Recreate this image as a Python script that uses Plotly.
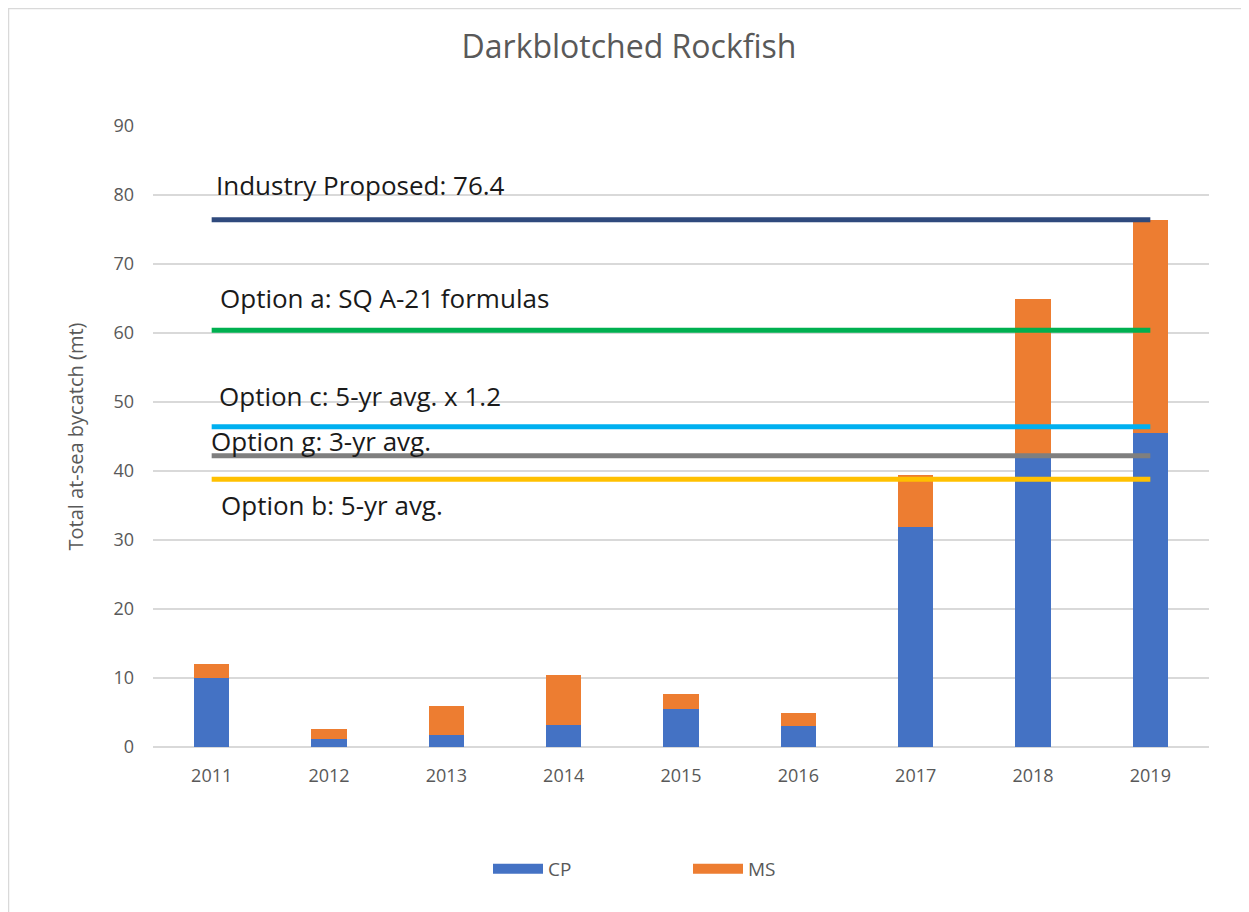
import plotly.graph_objects as go

years = ["2011", "2012", "2013", "2014", "2015", "2016", "2017", "2018", "2019"]
cp = [10.0, 1.2, 1.7, 3.2, 5.5, 3.1, 31.9, 42.0, 45.5]
ms_total = [12.0, 2.6, 6.0, 10.5, 7.7, 4.9, 39.4, 65.0, 76.4]
ms = [round(t - c, 2) for t, c in zip(ms_total, cp)]

ref_labels = ["Industry Proposed: 76.4", "Option a: SQ A-21 formulas",
              "Option c: 5-yr avg. x 1.2", "Option g: 3-yr avg.", "Option b: 5-yr avg."]
ref_values = [76.4, 60.4, 46.4, 42.2, 38.8]
ref_colors = ["#2F4A7D", "#00B050", "#00B0F0", "#7F7F7F", "#FFC000"]
label_y = [81.4, 65.1, 50.9, 44.3, 35.1]
label_px = [214, 218, 217, 209, 219]

CP_COLOR = "#4472C4"
MS_COLOR = "#ED7D31"
FONT = "Open Sans, Liberation Sans, sans-serif"

OFF = 8  # page body offset
W, H = 1249, 912
L = 153 - OFF
T = 126 - OFF
R = W - (1209 - OFF)
B = H - (747 - OFF)
pw = W - L - R
ph = H - T - B

fig = go.Figure()
fig.add_trace(go.Bar(x=years, y=cp, name="CP", marker=dict(color=CP_COLOR, line=dict(width=0)),
                     showlegend=False))
fig.add_trace(go.Bar(x=years, y=ms, name="MS", marker=dict(color=MS_COLOR, line=dict(width=0)),
                     showlegend=False))

for lab, v, c in zip(ref_labels, ref_values, ref_colors):
    fig.add_trace(go.Scatter(x=[years[0], years[-1]], y=[v, v], mode="lines",
                             line=dict(color=c, width=5), showlegend=False,
                             hoverinfo="skip", name=lab))

# legend entries (wide swatches like the reference)
for nm, col in [("CP", CP_COLOR), ("MS", MS_COLOR)]:
    fig.add_trace(go.Scatter(x=[None], y=[None], mode="lines", name=nm,
                             line=dict(color=col, width=12), showlegend=True))

annots = []
for lab, ly, px in zip(ref_labels, label_y, label_px):
    annots.append(dict(text=lab, x=(px - OFF - L) / pw, xref="paper", y=ly, yref="y",
                       xanchor="left", yanchor="middle", showarrow=False,
                       font=dict(family=FONT, size=26, color="#1a1a1a")))

fig.update_layout(
    width=W, height=H,
    barmode="stack",
    bargap=0.7,
    margin=dict(l=L, r=R, t=T, b=B),
    paper_bgcolor="white", plot_bgcolor="white",
    title=dict(text="Darkblotched Rockfish", x=(629 - OFF) / W, xanchor="center",
               y=1 - (47 - OFF) / H, yanchor="middle",
               font=dict(family=FONT, size=32, color="#595959")),
    xaxis=dict(type="category", showgrid=False, showline=False, zeroline=False, ticks="",
               ticklabelstandoff=16,
               tickfont=dict(family=FONT, size=18, color="#595959")),
    yaxis=dict(range=[0, 90], dtick=10, showgrid=True, gridcolor="#D9D9D9", gridwidth=1.5,
               zeroline=True, zerolinecolor="#D9D9D9", zerolinewidth=1.5, showline=False, ticks="",
               ticklabelstandoff=18,
               tickfont=dict(family=FONT, size=18, color="#595959"),
               title=dict(text="Total at-sea bycatch (mt)", standoff=24,
                          font=dict(family=FONT, size=20, color="#595959"))),
    legend=dict(orientation="h", x=(488 - OFF - L) / pw, xanchor="left",
                y=-(869 - 747) / ph, yanchor="middle",
                entrywidth=135, traceorder="normal", itemwidth=50,
                font=dict(family=FONT, size=19, color="#595959")),
    annotations=annots,
    shapes=[dict(type="rect", xref="paper", yref="paper",
                 x0=(0.5 - L) / pw, x1=(W + 20 - L) / pw,
                 y0=-(H + 20 - T - ph) / ph, y1=1 + (T - 0.5) / ph,
                 line=dict(color="#D9D9D9", width=1.5), fillcolor="rgba(0,0,0,0)", layer="below")],
)

fig.write_html("out.html")
